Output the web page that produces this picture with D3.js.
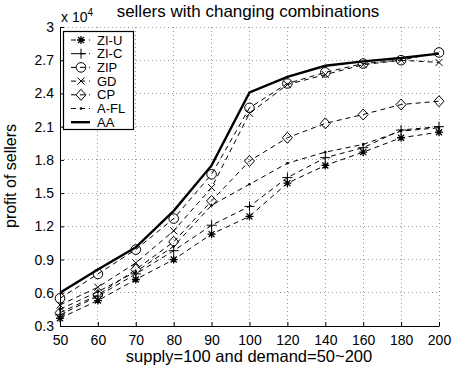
<!DOCTYPE html>
<html>
<head>
<meta charset="utf-8">
<script src="https://cdn.jsdelivr.net/npm/d3@7"></script>
<style>
  html, body { margin: 0; padding: 0; background: #fff; }
  svg { display: block; font-family: "Liberation Sans", Arial, sans-serif; }
</style>
</head>
<body>
<svg id="chart" width="453" height="371"></svg>
<script>
// Market size settings on the x axis (evenly spaced categories)
const categories = ["50", "60", "70", "80", "90", "100", "120", "140", "160", "180", "200"];
// Profit of sellers, in units of 10^4
const ziU  = [0.37, 0.53, 0.72, 0.90, 1.13, 1.29, 1.59, 1.75, 1.87, 2.00, 2.05];
const ziC  = [0.40, 0.57, 0.77, 0.98, 1.21, 1.38, 1.64, 1.82, 1.91, 2.07, 2.10];
const zip  = [0.55, 0.77, 0.99, 1.27, 1.67, 2.27, 2.49, 2.59, 2.67, 2.70, 2.77];
const gd   = [0.49, 0.65, 0.87, 1.16, 1.55, 2.22, 2.48, 2.57, 2.66, 2.70, 2.68];
const cp   = [0.42, 0.58, 0.81, 1.06, 1.43, 1.79, 2.00, 2.13, 2.21, 2.30, 2.33];
const afl  = [0.45, 0.61, 0.79, 1.02, 1.39, 1.58, 1.77, 1.87, 1.94, 2.06, 2.09];
const aa   = [0.60, 0.81, 1.01, 1.34, 1.75, 2.41, 2.55, 2.65, 2.69, 2.72, 2.76];
const yTicks = [0.3, 0.6, 0.9, 1.2, 1.5, 1.8, 2.1, 2.4, 2.7, 3];
const seriesNames = ["ZI-U", "ZI-C", "ZIP", "GD", "CP", "A-FL", "AA"];
const seriesValues = [ziU, ziC, zip, gd, cp, afl, aa];
const seriesMarkers = ["star", "plus", "circle", "cross", "diamond", "dot", "none"];

const svg = d3.select("#chart");
const m = { left: 60, right: 439, top: 27, bottom: 326 };

const x = d3.scalePoint().domain(categories).range([m.left, m.right]);
const y = d3.scaleLinear().domain([0.3, 3]).range([m.bottom, m.top]);

// Dotted grid
const grid = svg.append("g").attr("stroke", "#9a9a9a").attr("stroke-width", 1)
  .attr("stroke-dasharray", "1,3").attr("shape-rendering", "crispEdges");
categories.slice(1).forEach(c => {
  grid.append("line").attr("x1", x(c)).attr("x2", x(c)).attr("y1", m.top).attr("y2", m.bottom);
});
yTicks.slice(1).forEach(t => {
  grid.append("line").attr("x1", m.left).attr("x2", m.right).attr("y1", y(t)).attr("y2", y(t));
});

// Axes with inward ticks
const xAxis = svg.append("g").attr("transform", `translate(0,${m.bottom})`)
  .call(d3.axisBottom(x).tickSizeInner(-4).tickSizeOuter(0).tickPadding(9));
const yAxis = svg.append("g").attr("transform", `translate(${m.left},0)`)
  .call(d3.axisLeft(y).tickValues(yTicks).tickFormat(d3.format("~g")).tickSizeInner(-4).tickSizeOuter(0).tickPadding(6));
[xAxis, yAxis].forEach(a => {
  a.select(".domain").attr("stroke", "#000").attr("stroke-width", 1);
  a.selectAll(".tick line").attr("stroke", "#000");
  a.selectAll("text").attr("fill", "#000").attr("font-size", 14)
    .attr("font-family", "Liberation Sans, Arial, sans-serif");
});
xAxis.selectAll("text").attr("dy", "0.71em");

// Marker shapes
function drawMarker(g, type, cx, cy) {
  const s = g.append("g").attr("transform", `translate(${cx},${cy})`)
    .attr("fill", "none").attr("stroke", "#000").attr("stroke-width", 1);
  if (type === "star") {
    s.append("path").attr("d", "M-4,0H4M0,-4V4M-3,-3L3,3M-3,3L3,-3").attr("stroke-width", 1.3);
  } else if (type === "plus") {
    s.append("path").attr("d", "M-5,0H5M0,-5V5");
  } else if (type === "circle") {
    s.append("circle").attr("r", 4.8);
  } else if (type === "cross") {
    s.append("path").attr("d", "M-3.5,-3.5L3.5,3.5M-3.5,3.5L3.5,-3.5");
  } else if (type === "diamond") {
    s.append("path").attr("d", "M0,-5.5L5,0L0,5.5L-5,0Z");
  } else if (type === "dot") {
    s.append("circle").attr("r", 1.3).attr("fill", "#000").attr("stroke", "none");
  }
}

const line = d3.line().x((d, i) => x(categories[i])).y(d => y(d));

seriesValues.forEach((vals, k) => {
  const isAA = seriesNames[k] === "AA";
  svg.append("path").datum(vals).attr("d", line).attr("fill", "none")
    .attr("stroke", "#000").attr("stroke-width", isAA ? 2.4 : 1)
    .attr("stroke-dasharray", isAA ? null : "5,4");
  const mg = svg.append("g");
  vals.forEach((v, i) => drawMarker(mg, seriesMarkers[k], x(categories[i]), y(v)));
});

// Legend
const lg = svg.append("g");
lg.append("rect").attr("x", 63.5).attr("y", 31.5).attr("width", 70).attr("height", 98)
  .attr("fill", "#fff").attr("stroke", "#000").attr("stroke-width", 1.2);
seriesNames.forEach((name, k) => {
  const ly = 40 + k * 13.7;
  const isAA = name === "AA";
  if (isAA) {
    lg.append("line").attr("x1", 71).attr("x2", 90).attr("y1", ly).attr("y2", ly)
      .attr("stroke", "#000").attr("stroke-width", 2.4);
  } else {
    lg.append("line").attr("x1", 71).attr("x2", 90).attr("y1", ly).attr("y2", ly)
      .attr("stroke", "#000").attr("stroke-width", 1).attr("stroke-dasharray", "5,4");
    drawMarker(lg, seriesMarkers[k], 81, ly);
  }
  lg.append("text").attr("x", 97).attr("y", ly).attr("dy", "0.35em")
    .attr("font-size", 13).text(name);
});

// Titles
svg.append("text").attr("x", 248).attr("y", 17).attr("text-anchor", "middle")
  .attr("font-size", 17).text("sellers with changing combinations");
const ex = svg.append("text").attr("x", 61).attr("y", 22).attr("font-size", 14);
ex.append("tspan").text("x 10");
ex.append("tspan").attr("font-size", 10).attr("dy", -6).text("4");
svg.append("text").attr("x", 249).attr("y", 362).attr("text-anchor", "middle")
  .attr("font-size", 16.5).text("supply=100 and demand=50~200");
svg.append("text").attr("transform", "translate(16,176) rotate(-90)").attr("text-anchor", "middle")
  .attr("font-size", 16).text("profit of sellers");
</script>
</body>
</html>
